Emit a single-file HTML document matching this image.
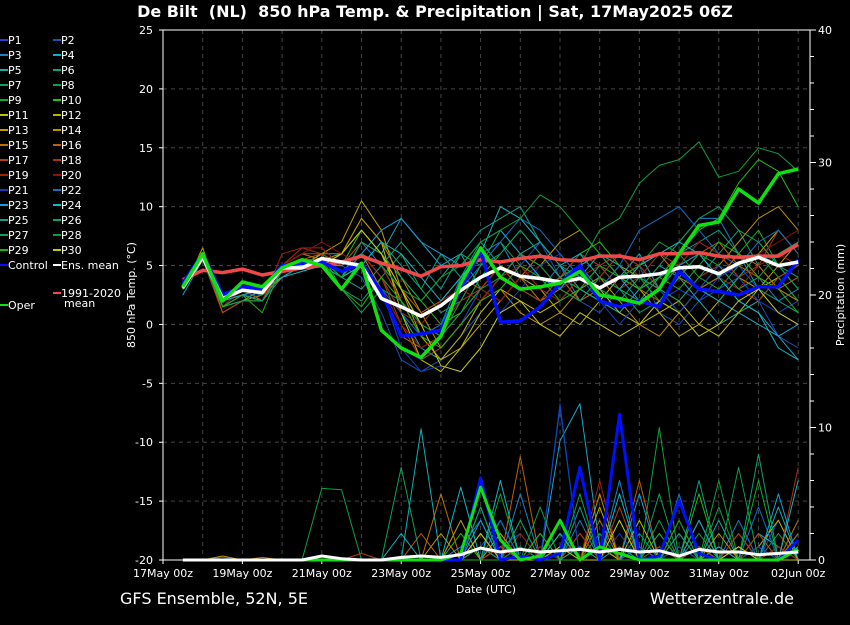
<!DOCTYPE html>
<html><head><meta charset="utf-8">
<style>
body{margin:0;background:#000;width:850px;height:620px;overflow:hidden;font-family:"Liberation Sans","DejaVu Sans",sans-serif;}
svg text{font-family:"DejaVu Sans","Liberation Sans",sans-serif;fill:#fff;}
</style></head>
<body>
<svg id="chart" width="850" height="620" xmlns="http://www.w3.org/2000/svg">
<rect width="850" height="620" fill="#000"/>
<text x="435" y="17" text-anchor="middle" font-size="16" font-weight="bold" xml:space="preserve" style="white-space:pre">De Bilt  (NL)  850 hPa Temp. &amp; Precipitation | Sat, 17May2025 06Z</text>
<g id="grid"></g>
<g id="axes"></g>
<g id="precip"></g>
<g id="temps"></g>
<g id="legend"></g>
<text transform="translate(135,295) rotate(-90)" text-anchor="middle" font-size="11">850 hPa Temp. (°C)</text>
<text transform="translate(844,295) rotate(-90)" text-anchor="middle" font-size="11">Precipitation (mm)</text>
<text x="486" y="593" text-anchor="middle" font-size="11">Date (UTC)</text>
<text x="120" y="604" font-size="16">GFS Ensemble, 52N, 5E</text>
<text x="794" y="604" text-anchor="end" font-size="16">Wetterzentrale.de</text>
</svg>
<script>
const hours=[12,24,36,48,60,72,84,96,108,120,132,144,156,168,180,192,204,216,228,240,252,264,276,288,300,312,324,336,348,360,372,384];
const xTickLabels=["17May 00z","19May 00z","21May 00z","23May 00z","25May 00z","27May 00z","29May 00z","31May 00z","02Jun 00z"];
const yTicks=[25,20,15,10,5,0,-5,-10,-15,-20];
const y2Ticks=[0,10,20,30,40];
const ensMean=[3.1,5.7,2.2,2.9,2.7,4.8,4.8,5.6,5.3,5.0,2.2,1.5,0.7,1.6,2.9,4.0,4.8,4.1,3.9,3.6,3.9,3.1,4.0,4.1,4.3,4.8,4.9,4.3,5.2,5.7,5.0,5.3];
const climMean=[3.8,4.6,4.4,4.7,4.2,4.5,4.8,5.0,5.3,5.8,5.2,4.7,4.1,4.9,5.0,5.5,5.3,5.6,5.8,5.5,5.4,5.8,5.8,5.5,6.0,6.0,6.1,5.8,5.7,5.8,5.8,6.8];
const control=[3.5,6.0,2.5,3.2,3.0,5.0,5.2,5.3,4.5,5.2,2.8,-1.0,-0.8,-0.5,3.0,6.3,0.2,0.3,1.5,3.5,5.0,2.0,1.5,2.0,1.5,4.5,3.0,2.8,2.5,3.2,3.2,5.5];
const oper=[3.2,6.0,2.0,3.6,3.2,4.8,5.5,5.0,3.0,5.2,-0.5,-2.0,-2.8,-1.0,3.5,6.5,4.0,3.0,3.2,3.5,4.5,2.5,2.2,1.8,3.0,6.0,8.4,8.7,11.5,10.3,12.8,13.2];
const members=[
[3,6,1.5,2.5,2.5,5,5.5,5.5,4.5,6,3,-2,-3,-2,0,3,5,4,2,3,4,2,1,0,2,3,2,4,5,3,1,2],
[3.5,5.5,2,3,3,4.5,5,6,5,4,1,-3,-4,-3,-1,1,3,5,7,4,2,1,3,5,1,0,2,3,4,2,-1,-2],
[3,6,1,2,2,4,5,5,4,7,5,2,-1,0,4,6,7,4,3,5,2,3,4,5,6,7,9,9,6,4,2,3],
[2.5,5.5,2,3,3,5,5,6,6,8,6,9,7,5,6,3,2,4,6,4,3,2,4,6,3,1,3,2,1,0,-1,-3],
[3,6,2,2.5,3,4.5,5.5,5,5,6,4,1,-2,-3,-1,2,4,6,7,5,3,2,1,3,5,4,2,0,1,2,4,5],
[3,5.5,1.5,3,2,5,6,5.5,4,5,7,5,3,6,4,7,5,3,2,4,6,5,3,2,4,6,7,8,6,3,2,1],
[3,6,2,3,3,5,5,6,3,2,4,6,3,1,2,5,8,6,4,3,5,6,4,3,5,7,9,10,8,5,3,2],
[3,6,1.5,2,2,5,5,5.5,4,5,3,0,-2,-1,2,5,7,5,3,4,5,8,9,12,13.5,14,15.5,12.5,13,15,14.5,13],
[3,5.5,2,3,3,5,5.5,5,4,6,5,3,0,-1,1,4,6,8,6,4,3,5,6,4,2,1,3,4,6,8,5,3],
[3.5,6,1.5,3,2.5,5,5,6,5,8,6,4,2,0,1,3,5,3,2,4,6,7,5,3,4,6,8,9,12,14,13,10],
[3,6,2,2.5,2,4.5,5,5,6,9,7,1,-3,-4,-2,1,3,2,1,2,4,3,1,0,1,2,0,-1,1,3,4,2],
[3,6,2,3,3,4,5,5.5,6,8,6,2,-1,-3,-2,0,2,4,3,1,0,2,4,3,1,-1,0,2,4,6,8,6],
[3,6.5,1.5,2.5,2,5,5,6,7,10.5,8,3,-1,-3,-1,2,4,6,5,7,8,6,5,4,3,5,7,6,4,3,5,7],
[3,6,1,2,2.5,4,5,5,6,9,7,4,1,-2,0,2,3,1,0,1,3,4,2,0,-1,1,3,5,7,9,10,8],
[3,6,1.5,2.5,3,5,6,5.5,4,6,3,-1,-2,-1,1,3,5,4,2,3,5,6,4,5,6,4,3,4,6,5,3,2],
[3.5,6,2,3,2,5,5.5,6,5,7,6,3,1,2,4,3,2,4,6,4,2,3,5,3,2,4,6,7,5,4,3,4],
[3,5.5,1,2,2,5,6,6,5,6,4,0,-3,-2,0,2,4,6,5,3,2,4,6,5,3,2,4,5,3,2,4,5],
[3,6,2,3,3,5,6.5,6,5,6,5,2,-1,0,2,3,5,3,2,4,6,5,3,4,6,5,7,6,4,5,8,6],
[3,6,1.5,2.5,2,6,6.5,6.5,5,6,4,1,0,2,3,2,4,5,3,2,4,5,6,4,3,5,6,4,3,5,6,5],
[3,6,1.5,3,2.5,5,6,7,6,5,3,0,-2,-1,1,3,2,4,5,3,4,6,5,3,4,5,7,6,5,6,7,8],
[3,5.5,1.5,2.5,2.5,5,5,5.5,4,5,3,-2,-4,-3.5,-4,-2,1,3,5,6,4,2,0,2,3,1,3,5,4,2,1,0],
[3,6,2,3,3,4.5,5,5,4,5,3,1,-1,0,3,5,7,9,8,6,4,3,5,8,9,10,8,6,5,7,8,6],
[3,5.5,2,2.5,3,4,5,5,5,6,8,9,7,6,5,7,8,6,4,3,5,6,4,2,3,5,6,4,2,1,-1,0],
[3,6,1.5,2,3,4,4.5,5,4,5,7,6,4,2,4,6,10,9,7,5,6,4,3,5,6,7,6,4,2,1,-2,-3],
[3,5.5,1.5,2.5,2,4.5,5,5.5,4,3,5,7,5,3,6,8,9,10,7,5,4,6,5,3,4,5,3,2,4,6,5,4],
[3,6,2,3,3,5,5,5,4,7,6,4,2,4,6,5,6,8,6,4,5,3,2,4,3,2,4,6,8,7,5,3],
[3,5.5,1.5,2,2,4.5,5,5,3,1,3,2,0,-1,1,3,4,6,5,3,2,4,3,1,2,4,6,5,3,4,6,7],
[3,6,2,3,2.5,5,5.5,5.5,4,6,5,3,2,4,5,7,8,9,11,10,8,6,4,5,7,6,4,3,5,6,4,2],
[3.5,6,1.5,2.5,1,5,5,5.5,3,1.5,4,2,-1,-2,0,2,3,5,4,2,3,5,4,3,4,3,5,7,6,4,3,1],
[3,6,2,3,3,5,5,5,6,8,6,3,0,-3.5,-4,-2,1,2,0,-1,1,0,-1,0,2,1,-1,0,2,3,1,0]
];
const precipEnsMean=[0,0,0,0,0,0,0,0.3,0.1,0,0,0.2,0.3,0.2,0.4,0.9,0.6,0.8,0.6,0.7,0.8,0.6,0.8,0.6,0.7,0.3,0.8,0.6,0.6,0.4,0.5,0.6];
const precipControl=[0,0,0,0,0,0,0,0,0,0,0,0,0,0,0,6.2,0,0.3,0,0.5,7,0,11,0,0.3,4.5,0.5,0,0,0,0,1.5];
const precipOper=[0,0,0,0,0,0,0,0,0,0,0,0,0,0,0.5,5.5,1.5,0,0.3,3,0,1,0.5,0,0,0,0,0,0,0,0,0.8];
const precipMembers=[
[0,0,0,0,0,0,0,0,0,0,0,0,0,0,0,1,3,0,1,0,2,0,1,0,0,2,0,1,0,0,3,0],
[0,0,0.2,0,0,0,0,0,0,0,0,0,0,0,0,0,1,2,0,11.5,0,1,0,0,0,0,3,0,0,1,0,2],
[0,0,0,0,0,0,0,0,0,0,0,0,0,0,1,3,0,5,0,0,3,0,6,0,1,0,0,0,3,0,0,1],
[0,0,0,0,0,0,0,0,0,0,0,0,0,0,0,4,0,1,0,9,11.8,1,0,0,2,0,1,0,0,2,1,0],
[0,0,0,0,0,0,0,0,0,0,0,0,9.9,0,3,0,2,0,0,3,0,1,0,0,0,1,0,3,0,0,4,0],
[0,0,0,0,0,0,0,0,0,0,0,0,0,0,0,2,0,1,0,0,4,0,0,2,0,0,6,0,1,0,0,2],
[0,0,0,0,0,0,0,0,0,0,0,7,0,0,0,0,3,0,2,0,0,2,0,0,5,0,1,0,0,1,0,0],
[0,0,0,0,0,0,0,5.4,5.3,0,0,0,0,0,0,1,0,0,4,0,0,2,0,0,10,0,0,4,0,0,2,0],
[0,0,0,0,0,0,0,0,0,0,0,0,0,0,0,2,0,0,0,1,0,0,3,0,1,0,0,0,0,6,0,0],
[0,0,0,0,0,0,0,0,0,0,0,0,0,0,2,0,0,0,1,0,2,0,0,0,0,0,5,0,0,0,0,3],
[0,0,0,0,0,0,0,0,0,0,0,0,0,0,0,0,1,0,0,2,0,1,0,3,0,0,1,0,2,0,0,1],
[0,0,0,0,0,0,0,0,0,0,0,0,0,0,0,1,0,0,2,0,0,4,0,1,0,0,3,0,0,1,3,0],
[0,0,0,0,0,0,0,0,0,0,0,0,0,2,0,0,1,0,0,3,0,1,0,0,0,1,0,2,0,0,1,0],
[0,0,0.3,0,0,0,0,0,0,0,0,0,0,0,3,0,2,0,0,0,0,5,0,1,0,3,0,0,0,2,0,0],
[0,0,0,0,0.2,0,0,0,0,0,0,0,0,5,0,2,0,0,1,0,0,3,0,0,0,2,0,0,1,0,0,2],
[0,0,0,0,0,0,0,0,0,0,0,0,2,0,0,0,0,7.8,0,0,2,0,0,6,0,0,0,1,0,0,0,3],
[0,0,0,0,0,0,0,0,0,0.5,0,0,0,0,0,1,0,0,2,0,0,0,4,0,0,0,1,0,0,2,0,0],
[0,0,0,0,0,0,0,0,0,0,0,0,0,0,0,0,1,0,0,0,2,0,0,0,1,0,0,0,2,0,0,7],
[0,0,0,0,0,0,0,0,0,0,0,0,0,0,0,0,0,2,0,0,0,6,0,1,0,0,0,0,0,0,1,0],
[0,0,0,0,0,0,0,0,0,0,0,0,0,0,0,0,0,0,1,0,0,0,0,1,0,0,0,1,0,0,0,0],
[0,0,0,0,0,0,0,0,0,0,0,0,0,0,0,0,0,0,0,11.8,0,0,2,0,0,1,0,0,0,1,0,0],
[0,0,0,0,0,0,0,0,0,0,0,0,0,0,0,0,3,0,2,0,0,0,0,1,0,5,0,0,0,4,0,1],
[0,0,0,0,0,0,0,0,0,0,0,0,0,0,0,3,0,0,0,0,1,0,0,5,0,0,3,0,0,0,5,0],
[0,0,0,0,0,0,0,0,0,0,0,2,0,0,5.5,0,6,0,0,2,0,0,5,0,0,0,0,1,0,0,0,6],
[0,0,0,0,0,0,0,0,0,0,0,0,0,0,0,1,0,3,0,0,1,0,0,0,0,2,0,0,0,0,0,1],
[0,0,0,0,0,0,0,0,0,0,0,0,0,0,0,4,0,0,0,3,0,0,1,0,0,0,2,0,0,8,0,0],
[0,0,0,0,0,0,0,0,0,0,0,0,0,0,0,0,0,3,0,0,5,0,0,0,3,0,0,0,7,0,0,0],
[0,0,0,0,0,0,0,0,0,0,0,0,0,0,0,0,5,0,0,3,0,0,0,0,0,3,0,6,0,0,0,0],
[0,0,0,0,0,0,0,0,0,0,0,0,0,0,0,0,0,0,2,0,0,0,0,0,2,0,0,0,0,0,0,0],
[0,0,0,0,0,0,0,0,0,0,0,0,0,0,0,2,0,0,0,1,0,0,3,0,0,0,0,0,1,0,0,0]
];
const memberColors=["#2040d0","#1a50b8","#1a80c8","#18a8c8","#10b0b0","#10a080","#10a060","#10a040","#10b020","#20c010","#c0c000","#c0b000","#c0a000","#c09000","#c07000","#c06000","#b04010","#b03010","#a02010","#901010","#1040b8","#1070c8","#10a0d8","#10b8c8","#10a090","#10a070","#10a050","#10a030","#20b010","#c8c810"];

const NS="http://www.w3.org/2000/svg";
const X0=163,X1=810,Y0=30,Y1=560;
function xs(h){return X0+h*39.7/24;}
function ys(t){return Y0+(25-t)*(Y1-Y0)/45;}
function yp(p){return Y1-p*(Y1-Y0)/40;}
function mk(tag,attrs,parent){const e=document.createElementNS(NS,tag);for(const k in attrs)e.setAttribute(k,attrs[k]);parent.appendChild(e);return e;}
const grid=document.getElementById('grid'),axes=document.getElementById('axes');
for(let d=1;d<16.5;d++){const l=mk('line',{x1:xs(d*24),x2:xs(d*24),y1:Y0,y2:Y1,stroke:'#444','stroke-dasharray':'4,4'},grid);

}
yTicks.forEach(t=>{if(t<25&&t>-20){const l=mk('line',{x1:X0,x2:X1,y1:ys(t),y2:ys(t),stroke:'#444','stroke-dasharray':'4,4'},grid);

}
const tx=mk('text',{x:153,y:ys(t)+4,'text-anchor':'end','font-size':11},axes);tx.textContent=t;


mk('line',{x1:X0-4,x2:X0,y1:ys(t),y2:ys(t),stroke:'#fff'},axes);});
for(let p=0;p<=40;p+=2){mk('line',{x1:X1,x2:X1+(p%10==0?6:4),y1:yp(p),y2:yp(p),stroke:'#fff'},axes);}
y2Ticks.forEach(p=>{const tx=mk('text',{x:818,y:yp(p)+4,'font-size':11},axes);tx.textContent=p;

});
xTickLabels.forEach((s,i)=>{mk('line',{x1:xs(i*48),x2:xs(i*48),y1:Y1,y2:Y1+4,stroke:'#fff'},axes);
const tx=mk('text',{x:xs(i*48),y:577,'text-anchor':'middle','font-size':11},axes);tx.textContent=s;

});
const frame=mk('rect',{x:X0,y:Y0,width:X1-X0,height:Y1-Y0,fill:'none',stroke:'#fff','stroke-width':1},axes);



function path(vals,fy,color,w,parent,name){const d=vals.map((v,i)=>(i?'L':'M')+xs(hours[i]).toFixed(1)+','+fy(v).toFixed(1)).join('');
const p=mk('path',{d:d,fill:'none',stroke:color,'stroke-width':w,'stroke-linejoin':'round'},parent);

return p;}
const pg=document.getElementById('precip'),tg=document.getElementById('temps');
precipMembers.forEach((m,i)=>path(m,yp,memberColors[i],1,pg,'precip-member-p'+(i+1)));
path(precipControl,yp,'#0010ff',3,pg,'precip-control');
path(precipOper,yp,'#10e010',3,pg,'precip-oper');
path(precipEnsMean,yp,'#ffffff',3,pg,'precip-ens-mean');
members.forEach((m,i)=>path(m,ys,memberColors[i],1,tg,'temp-member-p'+(i+1)));
path(climMean,ys,'#f04848',3.5,tg,'temp-climate-mean');
path(control,ys,'#0010ff',3.5,tg,'temp-control');
path(ensMean,ys,'#ffffff',3.5,tg,'temp-ens-mean');
path(oper,ys,'#10e010',3.5,tg,'temp-oper');

const lg=document.getElementById('legend');
function entry(x,y,color,label,name){const g=mk('g',{},lg);


mk('line',{x1:x,x2:x+8,y1:y,y2:y,stroke:color,'stroke-width':2},g);
const t=mk('text',{x:x+8,y:y+4,'font-size':11},g);t.textContent=label;return t;}
for(let i=0;i<30;i++){entry(i%2?53:0,40+Math.floor(i/2)*15,memberColors[i],'P'+(i+1),'legend-entry-p'+(i+1));}
entry(0,265,'#0010ff','Control','legend-entry-control');
entry(53,265,'#ffffff','Ens. mean','legend-entry-ens-mean');
entry(53,293,'#f04848','1991-2020','legend-entry-climate-mean');
const mt=mk('text',{x:64,y:307,'font-size':11},lg);mt.textContent='mean';


entry(0,305,'#10e010','Oper','legend-entry-oper');
</script>
</body></html>
